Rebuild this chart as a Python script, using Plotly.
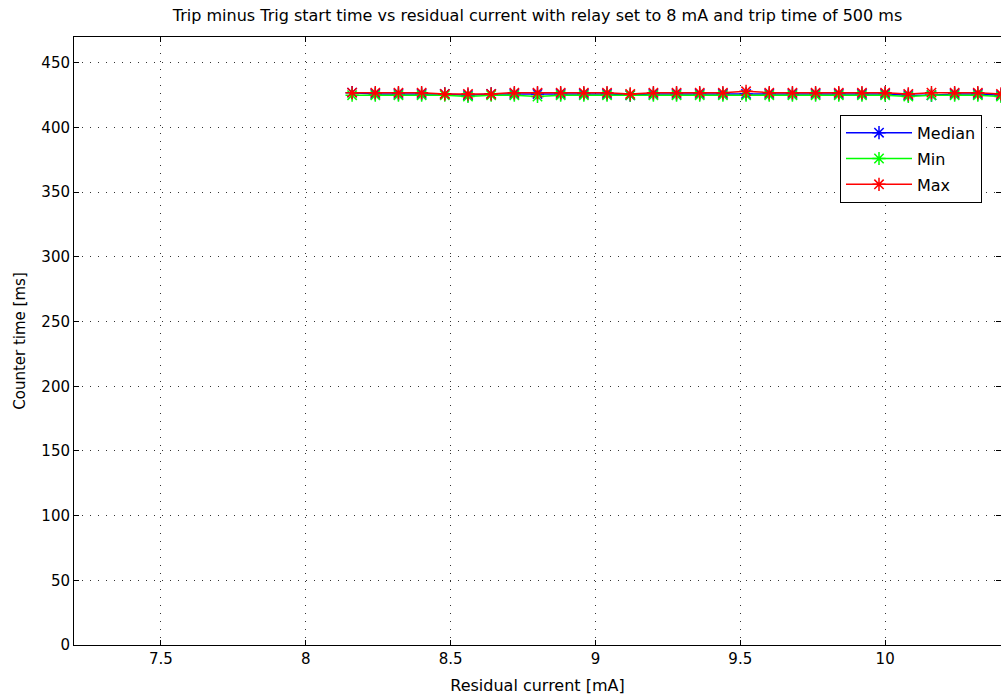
import plotly.graph_objects as go

current_mA = [8.16, 8.24, 8.32, 8.40, 8.48, 8.56, 8.64, 8.72, 8.80, 8.88,
              8.96, 9.04, 9.12, 9.20, 9.28, 9.36, 9.44, 9.52, 9.60, 9.68,
              9.76, 9.84, 9.92, 10.00, 10.08, 10.16, 10.24, 10.32, 10.40]
median_ms = [427, 426, 426, 426, 426, 425, 426, 426, 426, 426,
             426, 426, 425, 426, 426, 426, 426, 426, 426, 426,
             426, 426, 426, 426, 425, 425, 426, 426, 425]
min_ms = [425, 425, 425, 425, 425, 424, 425, 425, 424, 425,
          425, 425, 425, 425, 425, 425, 425, 425, 425, 425,
          425, 425, 425, 425, 424, 425, 425, 425, 424]
max_ms = [427, 427, 427, 427, 426, 426, 426, 427, 427, 427,
          427, 427, 426, 427, 427, 427, 427, 428, 427, 427,
          427, 427, 427, 427, 426, 427, 427, 427, 426]

series = [("Median", median_ms, "#0000ff"),
          ("Min", min_ms, "#00ff00"),
          ("Max", max_ms, "#ff0000")]

FONT = "DejaVu Sans, Liberation Sans, Arial, sans-serif"

fig = go.Figure()
for name, vals, col in series:
    fig.add_trace(go.Scatter(
        x=current_mA, y=vals, name=name, mode="lines+markers",
        legendgroup=name,
        line=dict(color=col, width=1.5),
        marker=dict(symbol="asterisk-open", size=11, color=col,
                    line=dict(color=col, width=1.5)),
    ))

axis_common = dict(
    showline=True, linecolor="black", linewidth=1, mirror="ticks",
    ticks="inside", ticklen=5, tickcolor="black",
    showgrid=True, gridcolor="#333333", gridwidth=1, griddash="1px,7px",
    zeroline=False, tickfont=dict(family=FONT, size=15, color="black"),
)

fig.update_layout(
    width=1001, height=697,
    margin=dict(l=74, r=0, t=37, b=52),
    paper_bgcolor="white", plot_bgcolor="white",
    font=dict(family=FONT, size=15, color="black"),
    title=dict(text="Trip minus Trig start time vs residual current with relay set to 8 mA and trip time of 500 ms",
               x=0.074 + (1 - 0.074) / 2, xanchor="center", y=0.978, yanchor="middle",
               font=dict(family=FONT, size=16, color="black")),
    xaxis=dict(range=[7.2, 10.4], tickvals=[7.5, 8, 8.5, 9, 9.5, 10],
               ticktext=["7.5", "8", "8.5", "9", "9.5", "10"],
               title=dict(text="Residual current [mA]", standoff=12,
                          font=dict(family=FONT, size=16)),
               **axis_common),
    yaxis=dict(range=[0, 470], tickvals=list(range(0, 451, 50)),
               title=dict(text="Counter time [ms]", standoff=12,
                          font=dict(family=FONT, size=15)),
               **axis_common),
    legend=dict(x=(840 - 74) / 927, xanchor="left", y=0.872, yanchor="top",
                bgcolor="white", bordercolor="black", borderwidth=1,
                font=dict(family=FONT, size=16, color="black"), tracegroupgap=2,
                itemwidth=66),
    showlegend=True,
)

fig.write_html("out.html")
